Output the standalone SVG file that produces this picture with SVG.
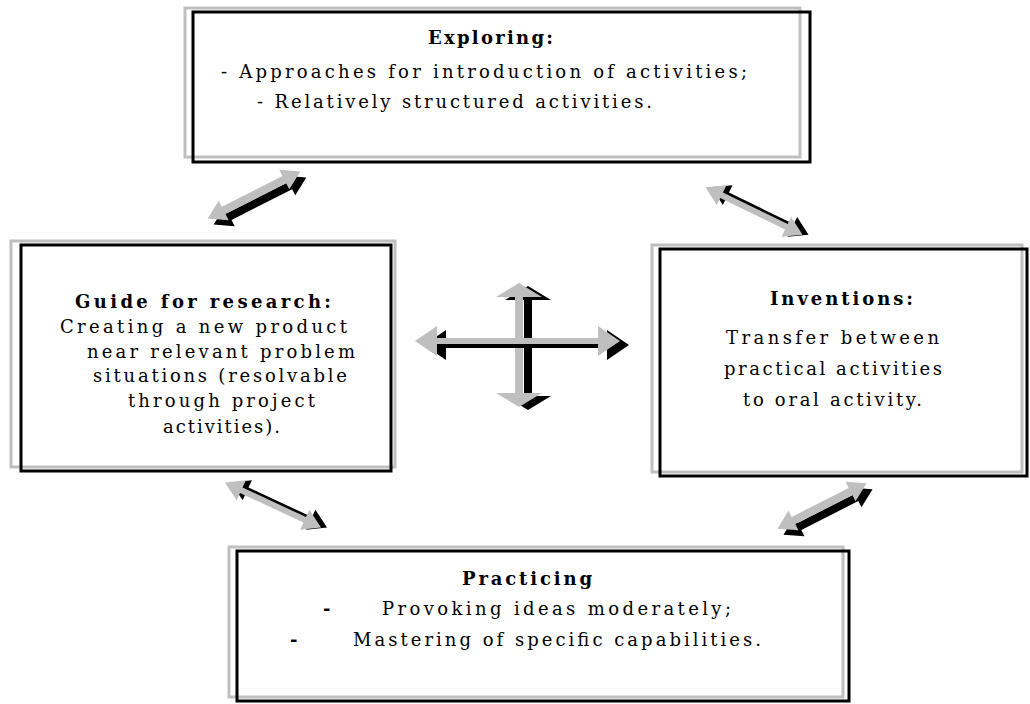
<svg xmlns="http://www.w3.org/2000/svg" width="1030" height="704" viewBox="0 0 1030 704">
<style>
.g{fill:none;stroke:#bfbfbf;stroke-width:3}
.k{fill:none;stroke:#000;stroke-width:3}
.t{font-family:"DejaVu Serif","Liberation Serif",serif;font-size:18px;fill:#000}
.b{font-weight:bold}
.ag{fill:#bfbfbf}
.ak{fill:#000}
</style>
<rect x="0" y="0" width="1030" height="704" fill="#fff"/>
<g id="exploring">
<rect class="g" x="185" y="8" width="615" height="149"/>
<rect class="k" x="193" y="12" width="617" height="150"/>
<text class="t b" x="428" y="44" textLength="125" lengthAdjust="spacing">Exploring:</text>
<text class="t" x="221" y="78" textLength="526" lengthAdjust="spacing">- Approaches for introduction of activities;</text>
<text class="t" x="257" y="108" textLength="395" lengthAdjust="spacing">- Relatively structured activities.</text>
</g>
<g id="guide">
<rect class="g" x="11" y="241" width="384" height="226"/>
<rect class="k" x="21" y="245" width="370" height="226"/>
<text class="t b" x="75" y="308" textLength="256" lengthAdjust="spacing">Guide for research:</text>
<text class="t" x="60" y="333" textLength="287" lengthAdjust="spacing">Creating a new product</text>
<text class="t" x="87" y="358" textLength="268" lengthAdjust="spacing">near relevant problem</text>
<text class="t" x="93" y="382" textLength="254" lengthAdjust="spacing">situations (resolvable</text>
<text class="t" x="128" y="407" textLength="187" lengthAdjust="spacing">through project</text>
<text class="t" x="163" y="433" textLength="117" lengthAdjust="spacing">activities).</text>
</g>
<g id="inventions">
<rect class="g" x="652" y="245" width="370" height="227"/>
<rect class="k" x="660" y="249" width="367" height="227"/>
<text class="t b" x="770" y="305" textLength="143" lengthAdjust="spacing">Inventions:</text>
<text class="t" x="726" y="344" textLength="213" lengthAdjust="spacing">Transfer between</text>
<text class="t" x="724" y="375" textLength="218" lengthAdjust="spacing">practical activities</text>
<text class="t" x="743" y="406" textLength="179" lengthAdjust="spacing">to oral activity.</text>
</g>
<g id="practicing">
<rect class="g" x="229" y="547" width="614" height="150"/>
<rect class="k" x="237" y="551" width="612" height="150"/>
<text class="t b" x="462" y="585" textLength="130" lengthAdjust="spacing">Practicing</text>
<text class="t b" x="323" y="615">-</text>
<text class="t" x="382" y="615" textLength="349" lengthAdjust="spacing">Provoking ideas moderately;</text>
<text class="t b" x="290" y="646">-</text>
<text class="t" x="353" y="646" textLength="408" lengthAdjust="spacing">Mastering of specific capabilities.</text>
</g>
<g id="connectors">
<g id="arrow-explore-guide">
<path class="ak" transform="translate(260,201) rotate(-27)" d="M-52,0 L-34,-11 L-34,-4 L34,-4 L34,-11 L52,0 L34,11 L34,4 L-34,4 L-34,11 Z"/>
<path class="ag" transform="translate(254,195) rotate(-27)" d="M-52,0 L-34,-11 L-34,-4 L34,-4 L34,-11 L52,0 L34,11 L34,4 L-34,4 L-34,11 Z"/>
</g>
<g id="arrow-explore-inventions">
<path class="ak" transform="translate(760,211) rotate(26)" d="M-54,0 L-36,-11 L-36,-3 L36,-3 L36,-11 L54,0 L36,11 L36,3 L-36,3 L-36,11 Z"/>
<path class="ag" transform="translate(754,211) rotate(26)" d="M-54,0 L-36,-11 L-36,-3 L36,-3 L36,-11 L54,0 L36,11 L36,3 L-36,3 L-36,11 Z"/>
</g>
<g id="arrow-guide-practicing">
<path class="ak" transform="translate(279,505) rotate(25)" d="M-53,0 L-35,-11 L-35,-3 L35,-3 L35,-11 L53,0 L35,11 L35,3 L-35,3 L-35,11 Z"/>
<path class="ag" transform="translate(273,505) rotate(25)" d="M-53,0 L-35,-11 L-35,-3 L35,-3 L35,-11 L53,0 L35,11 L35,3 L-35,3 L-35,11 Z"/>
</g>
<g id="arrow-inventions-practicing">
<path class="ak" transform="translate(828,512) rotate(-27)" d="M-50,0 L-32,-11 L-32,-4 L32,-4 L32,-11 L50,0 L32,11 L32,4 L-32,4 L-32,11 Z"/>
<path class="ag" transform="translate(822,506) rotate(-27)" d="M-50,0 L-32,-11 L-32,-4 L32,-4 L32,-11 L50,0 L32,11 L32,4 L-32,4 L-32,11 Z"/>
</g>
<g id="cross">
<path class="ak" transform="translate(9,3)" d="M519,283 L542,297 L523,297 L523,393 L542,393 L519,407 L496,393 L515,393 L515,297 L496,297 Z"/>
<path class="ag" d="M519,283 L542,297 L523,297 L523,393 L542,393 L519,407 L496,393 L515,393 L515,297 L496,297 Z"/>
<path class="ak" transform="translate(9,4)" d="M415,341 L437,326 L437,338 L598,338 L598,326 L620,341 L598,356 L598,344 L437,344 L437,356 Z"/>
<path class="ag" d="M415,341 L437,326 L437,338 L598,338 L598,326 L620,341 L598,356 L598,344 L437,344 L437,356 Z"/>
</g>
</g>
</svg>
